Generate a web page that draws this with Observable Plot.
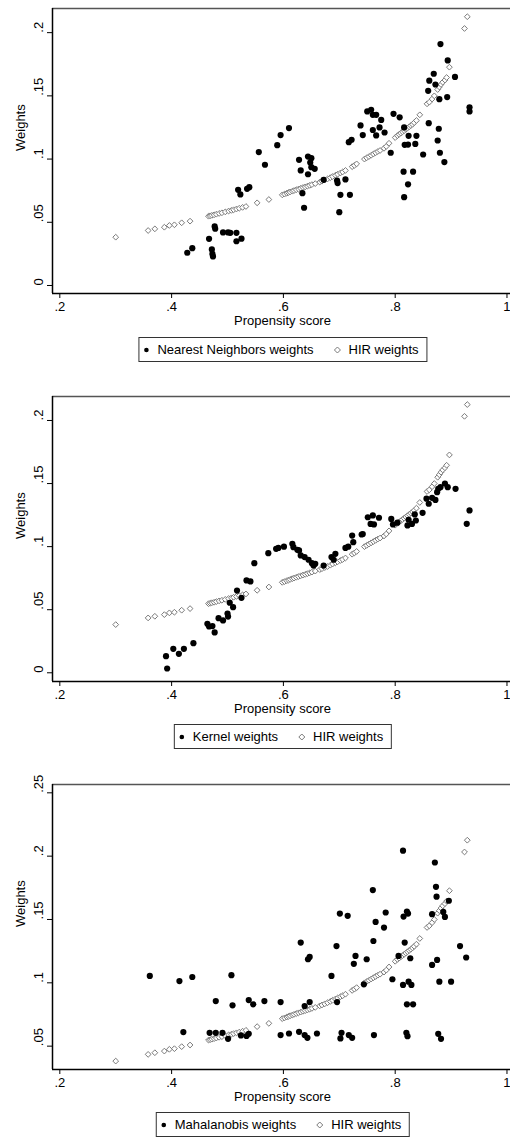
<!DOCTYPE html>
<html><head><meta charset="utf-8">
<script src="https://cdn.jsdelivr.net/npm/d3@7"></script>
<script src="https://cdn.jsdelivr.net/npm/@observablehq/plot@0.6"></script>
<style>
body{margin:0;background:#fff;}
#wrap{position:relative;width:510px;height:1140px;overflow:hidden;font-family:"Liberation Sans",Arial,Helvetica,sans-serif;}
.panel{position:absolute;left:0;}
.legend{position:absolute;transform:translateX(-50%);border:1px solid #333;height:25px;box-sizing:border-box;display:flex;align-items:center;padding:0 8px 0 3px;font-size:13px;color:#000;background:#fff;white-space:nowrap;}
.legend svg{flex:none;}
.legend .t{margin-left:7px;}
.legend .s2{margin-left:20px;}
</style>
</head><body>
<div id="wrap"></div>
<script>
// ---------- data ----------
const xTicks = [0.2, 0.4, 0.6, 0.8, 1];
const yTicks12 = [0, 0.05, 0.1, 0.15, 0.2];
const yTicks3 = [0.05, 0.1, 0.15, 0.2, 0.25];
const xLabel = "Propensity score";
const yLabel = "Weights";
const hirName = "HIR weights";
const seriesNames = ["Nearest Neighbors weights", "Kernel weights", "Mahalanobis weights"];

// HIR weights (same in all panels): [propensity score, weight]
const hirPoints = [
[0.300,0.0382],[0.358,0.0435],[0.370,0.0448],[0.387,0.0461],[0.396,0.0475],[0.405,0.0480],[0.418,0.0496],[0.433,0.0509],
[0.466,0.0548],[0.469,0.0551],[0.472,0.0555],[0.476,0.0559],[0.480,0.0564],[0.485,0.0570],[0.490,0.0575],[0.496,0.0582],
[0.502,0.0589],[0.507,0.0594],[0.511,0.0599],[0.516,0.0605],[0.521,0.0611],[0.527,0.0618],[0.533,0.0625],
[0.553,0.0654],[0.574,0.0680],
[0.598,0.0717],[0.602,0.0723],[0.606,0.0730],[0.609,0.0735],[0.612,0.0740],[0.616,0.0746],[0.619,0.0751],[0.623,0.0757],
[0.627,0.0763],[0.631,0.0769],[0.635,0.0775],[0.639,0.0780],[0.643,0.0786],[0.647,0.0792],[0.651,0.0798],[0.657,0.0806],
[0.665,0.0818],[0.669,0.0825],[0.674,0.0834],[0.679,0.0843],[0.684,0.0853],[0.688,0.0862],[0.693,0.0872],[0.697,0.0880],
[0.702,0.0890],[0.706,0.0898],[0.711,0.0910],
[0.723,0.0940],[0.727,0.0950],[0.731,0.0962],[0.745,0.1000],[0.749,0.1010],[0.753,0.1020],[0.757,0.1030],[0.761,0.1040],
[0.765,0.1050],[0.769,0.1060],[0.773,0.1068],[0.780,0.1085],[0.784,0.1100],[0.789,0.1125],
[0.800,0.1170],[0.804,0.1185],[0.807,0.1195],[0.810,0.1205],[0.813,0.1215],[0.816,0.1225],[0.819,0.1235],[0.822,0.1245],
[0.825,0.1255],[0.828,0.1265],[0.831,0.1275],[0.834,0.1288],[0.838,0.1305],[0.844,0.1350],
[0.857,0.1437],[0.861,0.1450],[0.866,0.1475],[0.870,0.1500],[0.876,0.1550],[0.879,0.1570],[0.882,0.1590],[0.885,0.1608],
[0.889,0.1625],[0.892,0.1645],[0.897,0.1727],[0.924,0.2033],[0.929,0.2126]
];

const nnPoints = [
[0.428,0.0259],[0.437,0.0295],[0.467,0.0369],[0.472,0.0285],[0.473,0.0250],[0.474,0.0230],[0.477,0.0467],[0.478,0.0449],
[0.492,0.0420],[0.501,0.0420],[0.505,0.0417],[0.516,0.0417],[0.516,0.0350],[0.525,0.0370],[0.519,0.0757],[0.523,0.0720],
[0.535,0.0765],[0.539,0.0778],[0.556,0.1055],[0.567,0.0955],[0.589,0.1110],[0.595,0.1190],[0.610,0.1245],[0.628,0.0994],
[0.631,0.0910],[0.634,0.0730],[0.637,0.0615],[0.644,0.1020],[0.648,0.0973],[0.650,0.1007],[0.644,0.0880],[0.650,0.0936],
[0.656,0.0923],[0.672,0.0836],[0.696,0.0830],[0.697,0.0810],[0.700,0.0580],[0.702,0.0717],[0.711,0.0839],[0.717,0.1134],
[0.719,0.0717],[0.722,0.1153],[0.738,0.1266],[0.742,0.1190],[0.750,0.1377],[0.757,0.1390],[0.760,0.1350],[0.766,0.1350],
[0.775,0.1310],[0.760,0.1230],[0.772,0.1250],[0.781,0.1210],[0.766,0.1187],[0.792,0.1050],[0.797,0.1358],[0.808,0.1330],
[0.816,0.1250],[0.824,0.1184],[0.838,0.1184],[0.817,0.1113],[0.823,0.1115],[0.836,0.1120],[0.850,0.1036],[0.815,0.0900],
[0.832,0.0900],[0.823,0.0800],[0.816,0.0699],[0.860,0.1284],[0.878,0.1240],[0.876,0.1147],[0.880,0.1050],[0.888,0.0976],
[0.881,0.1910],[0.894,0.1780],[0.907,0.1650],[0.861,0.1620],[0.869,0.1675],[0.872,0.1590],[0.859,0.1540],[0.879,0.1474],
[0.893,0.1490],[0.933,0.1410],[0.933,0.1377]
];

const kernelPoints = [
[0.390,0.0132],[0.392,0.0034],[0.403,0.0190],[0.413,0.0150],[0.422,0.0190],[0.439,0.0235],[0.464,0.0388],[0.467,0.0367],
[0.473,0.0370],[0.477,0.0320],[0.484,0.0433],[0.492,0.0415],[0.500,0.0470],[0.501,0.0446],[0.504,0.0555],[0.510,0.0520],
[0.517,0.0652],[0.525,0.0594],[0.534,0.0732],[0.541,0.0724],[0.548,0.0869],[0.573,0.0948],[0.587,0.0983],[0.591,0.0990],
[0.601,0.1000],[0.616,0.1022],[0.618,0.0996],[0.625,0.0975],[0.628,0.0970],[0.631,0.0930],[0.638,0.0917],[0.645,0.0896],
[0.651,0.0869],[0.654,0.0850],[0.657,0.0864],[0.672,0.0850],[0.686,0.0917],[0.690,0.0896],[0.693,0.0943],[0.711,0.0990],
[0.716,0.1000],[0.725,0.1035],[0.723,0.1088],[0.740,0.1096],[0.742,0.1100],[0.751,0.1233],[0.760,0.1247],[0.756,0.1180],
[0.762,0.1176],[0.771,0.1229],[0.793,0.1220],[0.796,0.1176],[0.804,0.1190],[0.824,0.1213],[0.822,0.1168],[0.830,0.1180],
[0.837,0.1207],[0.849,0.1268],[0.835,0.1255],[0.860,0.1340],[0.856,0.1380],[0.866,0.1387],[0.872,0.1370],[0.875,0.1432],
[0.881,0.1471],[0.889,0.1500],[0.894,0.1471],[0.877,0.1458],[0.908,0.1458],[0.933,0.1287],[0.928,0.1181]
];

const mahaPoints = [
[0.361,0.1054],[0.414,0.1014],[0.437,0.1046],[0.421,0.0611],[0.468,0.0605],[0.479,0.0605],[0.491,0.0605],[0.479,0.0856],
[0.501,0.0558],[0.507,0.1060],[0.509,0.0822],[0.524,0.0585],[0.534,0.0580],[0.538,0.0597],[0.538,0.0864],[0.546,0.0830],
[0.566,0.0856],[0.595,0.0848],[0.595,0.0587],[0.610,0.0600],[0.628,0.0613],[0.638,0.0587],[0.643,0.0566],[0.660,0.0600],
[0.638,0.0817],[0.647,0.0848],[0.644,0.1186],[0.647,0.1204],[0.631,0.1318],[0.686,0.1054],[0.696,0.0848],[0.704,0.0605],
[0.702,0.0561],[0.717,0.0587],[0.723,0.0566],[0.726,0.1150],[0.729,0.1212],[0.749,0.1186],[0.744,0.0988],[0.762,0.0587],
[0.695,0.1290],[0.761,0.1330],[0.817,0.1318],[0.795,0.1028],[0.814,0.0983],[0.824,0.1009],[0.829,0.0983],[0.806,0.1212],
[0.827,0.1194],[0.821,0.0830],[0.832,0.0830],[0.820,0.0605],[0.822,0.0579],[0.866,0.1141],[0.875,0.1181],[0.879,0.1009],
[0.900,0.1009],[0.877,0.0597],[0.882,0.0558],[0.916,0.1290],[0.927,0.1200],[0.814,0.2043],[0.871,0.1950],[0.760,0.1732],
[0.873,0.1758],[0.874,0.1680],[0.896,0.1648],[0.701,0.1547],[0.715,0.1529],[0.783,0.1555],[0.821,0.1563],[0.823,0.1547],
[0.815,0.1523],[0.765,0.1481],[0.780,0.1436],[0.866,0.1542],[0.886,0.1560],[0.889,0.1520]
];

// ---------- layout ----------
const FONT = '"Liberation Sans",Arial,Helvetica,sans-serif';
const xDomain = [0.1869, 1.0063];
const fmt = d => d === 0 ? "0" : d === 1 ? "1" : String(d).replace(/^0/, "");
const HIR_COLOR = "#7a7a7a";

function panel(points, yDomain, yTicks, top, legendTop, name) {
  const chart = Plot.plot({
    width: 510, height: 330,
    marginLeft: 52, marginRight: 0, marginTop: 8, marginBottom: 37,
    x: {domain: xDomain},
    y: {domain: yDomain},
    style: {fontFamily: FONT, fontSize: "13px", color: "#000", background: "transparent", overflow: "visible"},
    marks: [
      Plot.axisX({ticks: xTicks, tickSize: 5, tickPadding: 3, tickFormat: fmt, label: null, fontSize: 13}),
      Plot.axisY({ticks: yTicks, tickSize: 5, tickFormat: () => "", label: null}),
      Plot.text(yTicks, {y: d => d, frameAnchor: "left", dx: -14, rotate: -90, text: fmt, fontSize: 13}),
      Plot.text([yLabel], {frameAnchor: "left", dx: -32, rotate: -90, fontSize: 13}),
      Plot.text([xLabel], {frameAnchor: "bottom", dx: 1, dy: 31, fontSize: 13}),
      Plot.ruleY([yDomain[1]], {stroke: "#555", strokeWidth: 1.3}),
      Plot.ruleX([xDomain[0]], {stroke: "#000", strokeWidth: 1.5}),
      Plot.ruleY([yDomain[0]], {stroke: "#000", strokeWidth: 1.5}),
      Plot.dot(hirPoints, {x: d => d[0], y: d => d[1], symbol: "diamond2", r: 2.6, stroke: HIR_COLOR, fill: "white", strokeWidth: 1}),
      Plot.dot(points, {x: d => d[0], y: d => d[1], r: 3.1, fill: "#000", stroke: "none"})
    ]
  });
  chart.classList.add("panel");
  chart.style.top = top + "px";
  document.getElementById("wrap").appendChild(chart);

  const lg = document.createElement("div");
  lg.className = "legend";
  lg.style.left = "283px";
  lg.style.top = legendTop + "px";
  lg.innerHTML =
    `<svg width="8" height="8" viewBox="-4 -4 8 8"><circle r="2.3" fill="#000"/></svg><span class="t">${name}</span>` +
    `<svg class="s2" width="8" height="8" viewBox="-4 -4 8 8"><path d="M0,-3L3,0L0,3L-3,0Z" fill="#fff" stroke="${HIR_COLOR}" stroke-width="1"/></svg><span class="t">${hirName}</span>`;
  document.getElementById("wrap").appendChild(lg);
}

panel(nnPoints, [-0.00633, 0.2191], yTicks12, 0, 337, seriesNames[0]);
panel(kernelPoints, [-0.0069, 0.219], yTicks12, 388, 724, seriesNames[1]);
panel(mahaPoints, [0.03156, 0.25657], yTicks3, 776, 1112, seriesNames[2]);
</script>
</body></html>
